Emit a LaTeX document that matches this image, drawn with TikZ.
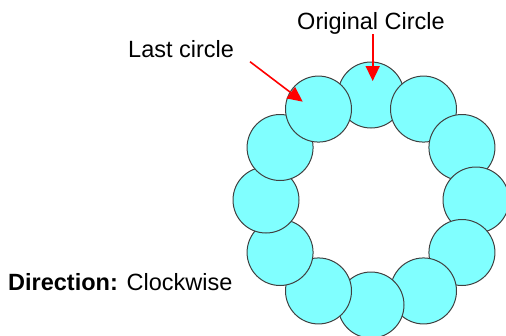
\documentclass[tikz,border=0pt]{standalone}
\usepackage{fontspec}
\setmainfont{Liberation Sans}
\usepackage{xcolor}
\usetikzlibrary{arrows.meta,positioning,calc}

\definecolor{ringfill}{HTML}{80FFFF}
\definecolor{ringline}{HTML}{404040}

\begin{document}
\begin{tikzpicture}[x=1pt, y=-1pt,
  ring/.style={circle, draw=ringline, fill=ringfill, line width=1pt, minimum size=66pt, inner sep=0pt},
  pointer/.style={-{Triangle[length=15pt, width=14pt]}, draw=red, fill=red, line width=1.6pt},
  txt/.style={font=\fontsize{23.5}{28}\selectfont, inner sep=0pt},
]
\useasboundingbox (0,0) rectangle (506,335);
\coordinate (ctr) at (371,200);

% ring of circles, drawn clockwise from the top
\foreach \i in {0,...,11} {
  \pgfmathsetmacro{\ang}{90-30*\i}
  \node[ring] (c\i) at ($(ctr)+(\ang:105pt)$) {};
}

\node[txt, anchor=base] (orig) at (371,29.3) {Original Circle};
\node[txt, anchor=base west] (last) at (128,57.3) {Last circle};
\node[txt, anchor=base west] (dir) at (8,290) {\textbf{Direction:} Clockwise};

\coordinate (origtip) at (372.7,81);
\coordinate (lasttail) at (250,61.7);
\coordinate (lasttip) at (302.7,101.7);

\draw[pointer] (orig.south -| origtip) -- (origtip);
\draw[pointer] (lasttail) -- (lasttip);

\end{tikzpicture}
\end{document}
